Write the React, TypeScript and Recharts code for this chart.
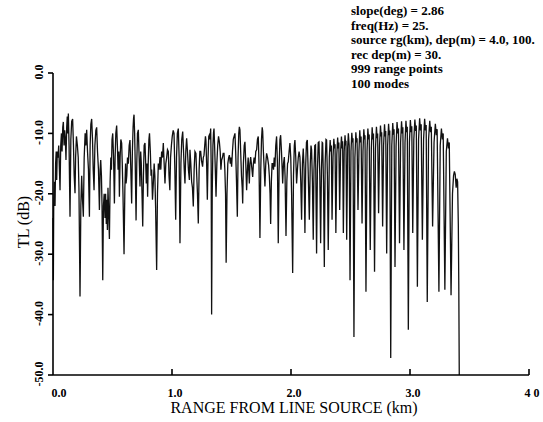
import React from 'react';
import { LineChart, Line, XAxis, YAxis, Label } from 'recharts';

// Transmission loss (dB) vs range (km)
const seg1: [number, number][] = [
  [0.000, -24], [0.003, -34.3], [0.006, -22], [0.012, -18], [0.017, -22], [0.022, -15], [0.027, -13], [0.031, -17.7],
  [0.036, -13], [0.042, -14], [0.048, -12], [0.054, -16], [0.059, -19.4], [0.065, -12], [0.071, -10], [0.076, -13],
  [0.082, -9], [0.087, -8.1], [0.093, -12], [0.098, -9.5], [0.104, -11], [0.109, -14.4], [0.115, -9], [0.120, -7.2],
  [0.124, -10], [0.129, -6.7], [0.135, -12], [0.143, -23.8], [0.150, -11], [0.157, -8], [0.165, -7.6], [0.172, -12],
  [0.178, -17], [0.185, -19.9], [0.190, -14], [0.197, -10.5], [0.205, -12.0], [0.212, -14], [0.218, -19], [0.227, -37],
  [0.234, -22], [0.241, -17], [0.248, -21], [0.255, -23.8], [0.262, -14], [0.270, -10], [0.276, -12], [0.283, -9.4],
  [0.290, -13], [0.298, -16], [0.306, -23.8], [0.312, -12], [0.318, -8.5], [0.325, -7.6], [0.332, -11], [0.338, -16],
  [0.345, -19.4], [0.352, -12], [0.360, -9.5], [0.367, -9.0], [0.374, -13], [0.382, -16], [0.390, -22.7], [0.396, -16],
  [0.401, -14.4], [0.407, -17], [0.412, -22], [0.418, -34.3], [0.424, -22], [0.430, -20], [0.437, -24], [0.442, -20],
  [0.448, -25], [0.452, -21], [0.457, -26], [0.462, -19], [0.468, -23], [0.474, -27.5], [0.480, -18], [0.486, -14],
  [0.491, -16], [0.496, -11], [0.502, -10.0], [0.509, -14], [0.516, -21.6], [0.522, -14], [0.528, -10], [0.535, -8.7],
  [0.541, -12], [0.547, -16], [0.553, -13], [0.558, -20.5], [0.564, -14], [0.570, -11], [0.577, -11.6], [0.582, -15],
  [0.588, -20], [0.597, -30], [0.604, -19], [0.610, -15], [0.614, -18.3], [0.620, -17], [0.626, -14], [0.633, -15],
  [0.640, -12], [0.647, -11.1], [0.654, -16], [0.661, -21.6], [0.667, -13], [0.673, -9], [0.677, -7.5], [0.681, -6.9],
  [0.686, -10], [0.691, -15], [0.698, -24.4], [0.704, -15], [0.710, -10], [0.717, -9.4], [0.724, -14], [0.731, -18.8],
  [0.737, -13], [0.742, -15], [0.748, -20], [0.754, -25.4], [0.760, -17], [0.766, -12], [0.773, -11.6], [0.779, -15],
  [0.784, -18.3], [0.790, -15], [0.795, -20.5], [0.800, -15], [0.806, -11], [0.811, -10.0], [0.818, -13], [0.824, -17],
  [0.829, -16], [0.836, -21], [0.843, -18.3], [0.850, -15], [0.856, -17], [0.862, -22], [0.871, -32.6], [0.878, -20],
  [0.885, -15], [0.892, -16], [0.899, -13.9], [0.906, -16], [0.913, -13], [0.920, -14], [0.927, -11.6], [0.934, -15],
  [0.941, -18.3], [0.948, -15], [0.955, -14], [0.962, -12.7], [0.969, -13], [0.975, -17], [0.982, -19.4], [0.988, -14],
  [0.995, -12], [1.002, -10.5], [1.010, -9.5], [1.017, -10.0], [1.024, -16], [1.031, -24.3], [1.038, -14], [1.045, -10],
  [1.053, -9.2], [1.060, -14], [1.067, -28.2], [1.075, -15], [1.082, -11], [1.090, -9.7], [1.097, -13], [1.103, -16],
  [1.109, -18.3], [1.116, -13], [1.123, -10.8], [1.130, -13], [1.138, -16], [1.146, -17.7],
];

const seg2: [number, number][] = [
  [1.151, -12.7], [1.158, -15], [1.165, -18], [1.172, -19], [1.179, -22.1], [1.186, -16], [1.193, -13], [1.201, -13.3],
  [1.208, -17], [1.214, -20], [1.221, -24.9], [1.228, -16], [1.234, -13], [1.241, -13.0], [1.248, -14.5], [1.257, -15.5],
  [1.263, -14], [1.269, -13.6], [1.275, -12], [1.281, -10.5], [1.285, -11.1], [1.291, -15], [1.297, -21], [1.303, -14],
  [1.309, -10.5], [1.313, -10.3], [1.319, -11], [1.325, -9.2], [1.329, -15], [1.333, -40], [1.338, -20], [1.344, -12],
  [1.349, -9.8], [1.353, -9.2], [1.358, -12], [1.364, -16], [1.370, -20.5], [1.377, -15], [1.384, -12], [1.391, -10.5],
  [1.398, -11.4], [1.405, -13], [1.411, -16], [1.417, -14.4], [1.424, -14], [1.430, -13.3], [1.437, -13.3], [1.444, -16],
  [1.450, -20], [1.455, -31.4], [1.462, -20], [1.469, -15], [1.476, -14], [1.482, -13.6], [1.490, -15], [1.495, -14],
  [1.501, -15.5], [1.508, -13], [1.515, -11], [1.522, -10.5], [1.529, -10.0], [1.535, -13], [1.542, -18], [1.549, -23.8],
  [1.555, -14], [1.561, -10], [1.566, -8.9], [1.571, -9.4], [1.577, -13], [1.584, -17], [1.590, -19], [1.594, -21.6],
  [1.600, -15], [1.607, -12], [1.613, -11.4], [1.620, -15], [1.627, -19.4], [1.634, -16], [1.640, -14], [1.645, -16],
  [1.650, -18.3], [1.655, -15], [1.661, -13.9], [1.667, -15], [1.672, -16], [1.678, -17.2], [1.684, -15], [1.690, -14],
  [1.697, -15.0], [1.704, -13], [1.711, -12.7], [1.718, -11], [1.725, -10.5], [1.731, -15], [1.739, -27.3], [1.746, -16],
  [1.752, -11], [1.758, -9.0], [1.762, -9.6], [1.768, -13], [1.775, -16], [1.781, -18.8], [1.788, -15], [1.795, -13.3],
  [1.803, -14], [1.812, -15.3], [1.818, -17], [1.824, -20], [1.829, -25], [1.835, -18], [1.841, -15], [1.846, -15.0],
  [1.853, -16], [1.859, -14], [1.865, -15.5], [1.872, -12], [1.879, -10.5], [1.886, -15], [1.893, -28.2], [1.900, -16],
  [1.907, -11], [1.913, -10.3], [1.920, -13], [1.926, -16], [1.930, -18.3], [1.937, -15], [1.944, -13.9], [1.950, -17],
  [1.958, -27.0], [1.965, -18], [1.971, -15], [1.977, -14.7], [1.984, -13], [1.991, -11.6], [1.998, -14], [2.005, -20],
  [2.014, -33.1], [2.021, -17], [2.028, -12], [2.033, -11.1], [2.040, -14], [2.047, -18.3], [2.054, -16], [2.061, -14],
  [2.068, -13], [2.075, -13.9], [2.082, -18], [2.089, -24.3], [2.096, -15], [2.103, -12.5], [2.110, -16], [2.117, -26.5],
  [2.124, -15], [2.130, -11.5], [2.137, -11.1], [2.144, -16], [2.154, -24.3], [2.162, -15], [2.168, -12], [2.173, -12.7],
  [2.180, -18], [2.187, -27.6], [2.193, -16], [2.200, -12], [2.206, -11.9], [2.215, -29.9], [2.222, -16], [2.229, -11.5],
  [2.235, -11.4], [2.242, -17], [2.249, -28.2], [2.256, -16], [2.262, -11.5], [2.266, -11.6], [2.273, -18], [2.280, -32.1],
  [2.287, -15], [2.294, -11], [2.299, -11.1], [2.306, -17], [2.313, -29.3],
];

const seg3: [number, number][] = [
  [2.322, -14], [2.329, -11.1], [2.335, -13], [2.339, -12], [2.345, -24.3],
  [2.353, -14], [2.360, -10.9], [2.366, -12.5], [2.370, -11.8], [2.377, -26.5],
  [2.385, -13.5], [2.392, -10.7], [2.398, -12.5], [2.402, -11.5], [2.409, -22.7],
  [2.417, -13], [2.424, -10.5], [2.430, -12.5], [2.434, -11.3], [2.440, -26.5],
  [2.447, -13], [2.454, -10.3], [2.459, -12], [2.462, -11.2], [2.468, -27.6],
  [2.476, -12.5], [2.482, -10.0], [2.489, -12], [2.496, -34.3],
  [2.504, -13], [2.511, -9.9], [2.517, -11.5], [2.521, -10.8], [2.529, -43.7],
  [2.537, -14], [2.545, -9.8], [2.551, -11.5], [2.555, -10.8], [2.563, -22.7],
  [2.571, -13], [2.578, -9.5], [2.584, -11.5], [2.589, -10.5], [2.597, -24.9],
  [2.605, -13], [2.612, -9.3], [2.618, -11], [2.622, -10.3], [2.630, -36.2],
  [2.639, -13], [2.646, -9.2], [2.652, -11], [2.657, -10.2], [2.666, -29.3],
  [2.675, -12.5], [2.682, -9.0], [2.688, -11], [2.693, -10], [2.702, -32.9],
  [2.710, -12.5], [2.718, -8.9], [2.724, -10.8], [2.728, -10], [2.736, -23.2],
  [2.744, -12], [2.752, -8.7], [2.758, -10.5], [2.762, -9.8], [2.770, -25.4],
  [2.778, -12], [2.786, -8.5], [2.792, -10.5], [2.796, -9.6], [2.804, -29.9],
  [2.812, -12], [2.820, -8.4], [2.826, -10.3], [2.830, -9.5], [2.838, -47.2],
  [2.847, -12], [2.855, -8.3], [2.861, -10.2], [2.866, -9.3], [2.874, -32.1],
  [2.883, -12], [2.891, -8.1], [2.898, -10], [2.903, -9.2], [2.912, -28.2],
  [2.921, -11.5], [2.929, -8.0], [2.935, -10], [2.940, -9], [2.949, -29.3],
  [2.958, -11.5], [2.966, -7.9], [2.972, -9.8], [2.977, -8.9], [2.986, -42.5],
  [2.995, -11.5], [3.003, -7.8], [3.010, -9.8], [3.015, -8.8], [3.023, -26.5],
  [3.032, -11], [3.041, -7.7], [3.048, -9.6], [3.053, -8.7], [3.062, -35.4],
  [3.072, -11], [3.081, -7.5], [3.088, -9.5], [3.094, -8.5], [3.104, -27.6],
  [3.114, -11], [3.123, -7.6], [3.130, -9.5], [3.136, -8.6], [3.145, -37.9],
  [3.156, -11], [3.166, -7.9], [3.173, -9.8], [3.179, -8.9], [3.190, -25.4],
  [3.202, -11.5], [3.213, -8.4], [3.221, -10.3], [3.228, -9.3], [3.243, -36.2],
  [3.254, -12], [3.264, -9.2], [3.272, -11], [3.279, -10], [3.293, -35.9],
  [3.305, -13], [3.315, -10.8], [3.323, -12.5], [3.330, -11.5], [3.345, -36.8],
  [3.357, -20], [3.366, -17], [3.373, -16.3], [3.380, -16.8], [3.388, -19], [3.394, -17.5],
  [3.400, -18], [3.406, -25], [3.410, -35], [3.414, -50],
];

const xTicks = [0, 1, 2, 3, 4];
const xTickLabels = ['0.0', '1.0', '2.0', '3.0', '4 0'];
const yTicks = [0, -10, -20, -30, -40, -50];
const yTickLabels = ['0.0', '-10.0', '-20.0', '-30.0', '-40.0', '-50.0'];
const noteLines = [
  'slope(deg) = 2.86',
  'freq(Hz) = 25.',
  'source rg(km), dep(m) = 4.0, 100.',
  'rec dep(m) = 30.',
  '999 range points',
  '100 modes',
];

const data = [...seg1, ...seg2, ...seg3].map(([r, tl]) => ({ r, tl }));

const SERIF = '"Liberation Serif", "DejaVu Serif", serif';

const XTick = (props: any) => {
  const { x, y, payload, index } = props;
  const i = xTicks.indexOf(payload.value);
  const label = xTickLabels[i >= 0 ? i : index];
  return (
    <g>
      {payload.value !== 0 && (
        <line x1={x} y1={y} x2={x} y2={y - 6} stroke="#000" strokeWidth={1.6} />
      )}
      <text x={x + (payload.value === 0 ? 6 : 3)} y={y + 22} textAnchor="middle"
        fontFamily={SERIF} fontWeight="bold" fontSize={12} fill="#000">{label}</text>
    </g>
  );
};

const YTick = (props: any) => {
  const { x, y, payload, index } = props;
  const i = yTicks.indexOf(payload.value);
  const label = yTickLabels[i >= 0 ? i : index];
  const cx = 39;
  const cy = y - 1;
  return (
    <g>
      <line x1={x} y1={y} x2={x - 5} y2={y} stroke="#000" strokeWidth={1.6} />
      <text x={cx} y={cy} transform={`rotate(-90, ${cx}, ${cy})`} textAnchor="middle"
        dominantBaseline="central" fontFamily={SERIF} fontWeight="bold" fontSize={12} fill="#000">{label}</text>
    </g>
  );
};

const XTitle = () => (
  <text x={294} y={413} textAnchor="middle" fontFamily={SERIF} fontSize={16} fill="#000">
    RANGE FROM LINE SOURCE (km)
  </text>
);

const YTitle = () => (
  <text x={23} y={222} transform="rotate(-90, 23, 222)" textAnchor="middle" dominantBaseline="central"
    fontFamily={SERIF} fontSize={16} fill="#000">
    TL (dB)
  </text>
);

export default function App() {
  return (
    <div style={{ position: 'absolute', left: 0, top: 0, width: 543, height: 422, background: '#fff' }}>
      <LineChart width={543} height={422} data={data}
        margin={{ top: 73, right: 14, left: 0, bottom: 0 }}>
        <XAxis dataKey="r" type="number" domain={[0, 4]} ticks={xTicks} height={47}
          axisLine={{ stroke: '#000', strokeWidth: 1.6 }} tickLine={false} tickSize={0} tickMargin={0}
          tick={<XTick />} interval={0}>
          <Label content={<XTitle />} />
        </XAxis>
        <YAxis type="number" domain={[-50, 0]} ticks={yTicks} width={53}
          axisLine={{ stroke: '#000', strokeWidth: 1.6 }} tickLine={false} tickSize={0} tickMargin={0}
          tick={<YTick />} interval={0}>
          <Label content={<YTitle />} />
        </YAxis>
        <Line dataKey="tl" type="linear" stroke="#111" strokeWidth={1.3} dot={false}
          isAnimationActive={false} />
      </LineChart>
      <div style={{ position: 'absolute', left: 351, top: 4, fontFamily: SERIF, fontWeight: 'bold',
        fontSize: 13, lineHeight: '14.5px', color: '#000', whiteSpace: 'nowrap' }}>
        {noteLines.map((l) => <div key={l}>{l}</div>)}
      </div>
    </div>
  );
}
